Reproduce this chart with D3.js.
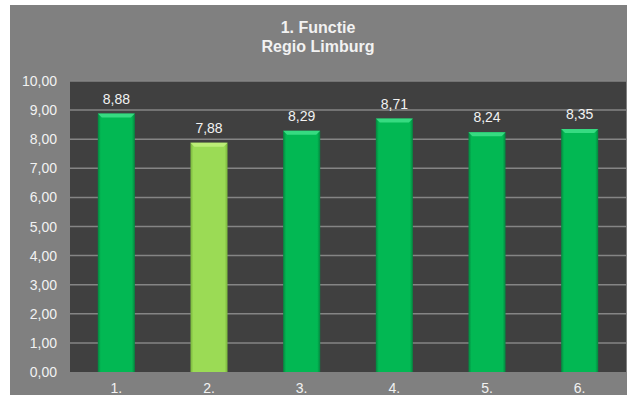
<!DOCTYPE html>
<html>
<head>
<meta charset="utf-8">
<script src="https://cdn.jsdelivr.net/npm/d3@7"></script>
<style>
  body { margin: 0; background: #fff; }
  text { font-family: "Liberation Sans", Arial, sans-serif; fill: #f2f2f2; }
</style>
</head>
<body>
<div id="container"></div>
<script>
var categories = ["1.", "2.", "3.", "4.", "5.", "6."];
var values = [8.88, 7.88, 8.29, 8.71, 8.24, 8.35];
var highlight = [false, true, false, false, false, false];
var yTicks = [0, 1, 2, 3, 4, 5, 6, 7, 8, 9, 10];
var titleLines = ["1. Functie", "Regio Limburg"];

var w = 631,
  h = 404;

var svg = d3.select("#container").append("svg")
  .attr("width", w)
  .attr("height", h);

var fmt = d => d.toFixed(2).replace(".", ",");

// outer frame
svg.append("rect")
  .attr("x", 10).attr("y", 5)
  .attr("width", 617).attr("height", 390)
  .attr("fill", "#808080");

var xScale = d3.scaleBand()
  .domain(categories)
  .range([70, 626])
  .paddingInner(0.6)
  .paddingOuter(0.3);

var yScale = d3.scaleLinear()
  .domain([0, 10])
  .range([372, 81]);

// plot area
svg.append("rect")
  .attr("x", 70).attr("y", yScale(10))
  .attr("width", 556).attr("height", yScale(0) - yScale(10))
  .attr("fill", "#404040");

// gradients for bars
var defs = svg.append("defs");
function grad(id, edge, mid) {
  var g = defs.append("linearGradient").attr("id", id)
    .attr("x1", "0").attr("x2", "1").attr("y1", "0").attr("y2", "0");
  g.append("stop").attr("offset", "0").attr("stop-color", edge);
  g.append("stop").attr("offset", "0.08").attr("stop-color", mid);
  g.append("stop").attr("offset", "0.92").attr("stop-color", mid);
  g.append("stop").attr("offset", "1").attr("stop-color", edge);
}
grad("gGreen", "#05853f", "#02b853");
grad("gLight", "#78b43c", "#9bdb55");

// grid lines
svg.append("g")
  .selectAll("line")
  .data(yTicks.slice(1))
  .enter()
  .append("line")
  .attr("x1", 70).attr("x2", 626)
  .attr("y1", d => yScale(d)).attr("y2", d => yScale(d))
  .attr("stroke", "#858585")
  .attr("stroke-width", 1.5);

// y labels
svg.append("g")
  .selectAll("text")
  .data(yTicks)
  .enter()
  .append("text")
  .attr("x", 57)
  .attr("y", d => yScale(d) + 5)
  .attr("text-anchor", "end")
  .attr("font-size", 14)
  .text(fmt);

// bars
var bars = svg.append("g")
  .selectAll("g")
  .data(values)
  .enter()
  .append("g");

bars.append("rect")
  .attr("x", (d, i) => xScale(categories[i]))
  .attr("y", d => yScale(d))
  .attr("width", xScale.bandwidth())
  .attr("height", d => yScale(0) - yScale(d))
  .attr("fill", (d, i) => highlight[i] ? "url(#gLight)" : "url(#gGreen)");

// top bevel
bars.append("path")
  .attr("d", (d, i) => {
    var x0 = xScale(categories[i]), x1 = x0 + xScale.bandwidth(), y = yScale(d);
    return "M" + x0 + "," + y + "L" + x1 + "," + y + "L" + (x1 - 4) + "," + (y + 4) + "L" + (x0 + 4) + "," + (y + 4) + "Z";
  })
  .attr("fill", (d, i) => highlight[i] ? "#c2f07e" : "#3fe08a")
  .attr("opacity", 0.85);

// value labels
bars.append("text")
  .attr("x", (d, i) => xScale(categories[i]) + xScale.bandwidth() / 2)
  .attr("y", d => yScale(d) - 10)
  .attr("text-anchor", "middle")
  .attr("font-size", 14)
  .text(fmt);

// x labels
svg.append("g")
  .selectAll("text")
  .data(categories)
  .enter()
  .append("text")
  .attr("x", d => xScale(d) + xScale.bandwidth() / 2)
  .attr("y", 393)
  .attr("text-anchor", "middle")
  .attr("font-size", 14)
  .text(d => d);

// title
svg.append("g")
  .selectAll("text")
  .data(titleLines)
  .enter()
  .append("text")
  .attr("x", 318)
  .attr("y", (d, i) => 33 + i * 19)
  .attr("text-anchor", "middle")
  .attr("font-size", 16)
  .attr("font-weight", "bold")
  .text(d => d);
</script>
</body>
</html>
